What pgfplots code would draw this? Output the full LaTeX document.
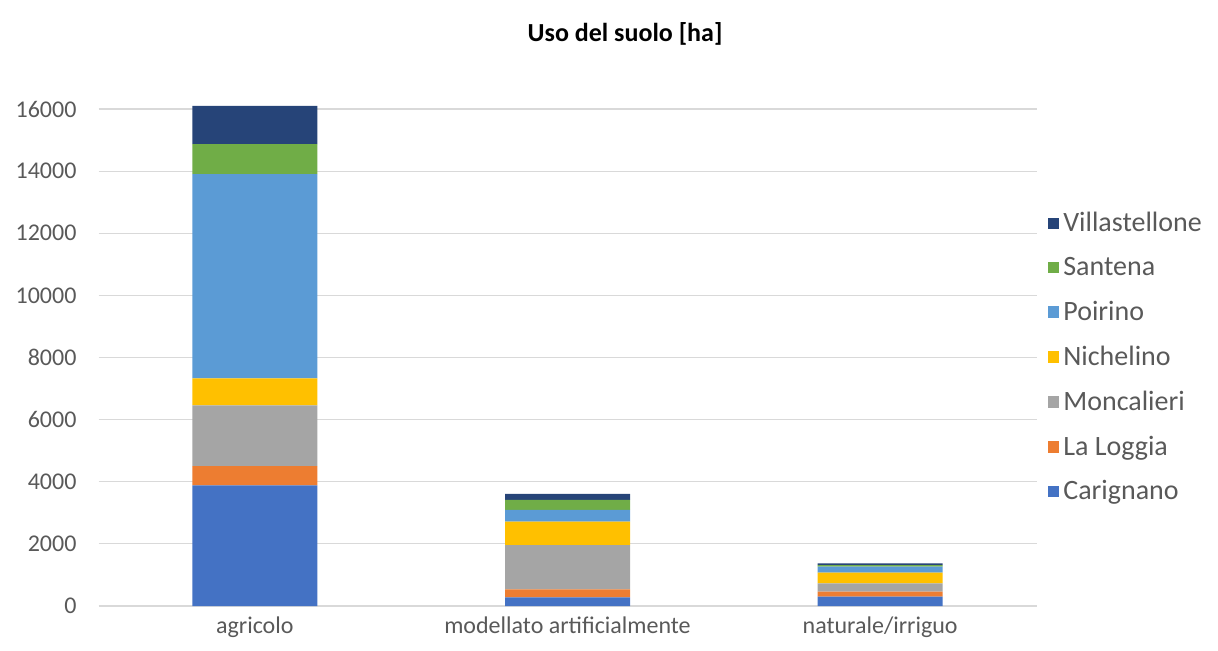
\documentclass[border=0pt]{standalone}
\usepackage{pgfplots}
\pgfplotsset{compat=1.18}
\usepackage{fontspec}
\setmainfont{Carlito}
\definecolor{cCar}{HTML}{4472C4}
\definecolor{cLog}{HTML}{ED7D31}
\definecolor{cMon}{HTML}{A5A5A5}
\definecolor{cNic}{HTML}{FFC000}
\definecolor{cPoi}{HTML}{5B9BD5}
\definecolor{cSan}{HTML}{70AD47}
\definecolor{cVil}{HTML}{264478}
\definecolor{txtgray}{HTML}{595959}
\definecolor{gridgray}{HTML}{D9D9D9}
\begin{document}
\begin{tikzpicture}[x=1pt,y=1pt]
\path[use as bounding box] (0,0) rectangle (609,325);
\node[font=\bfseries\fontsize{13}{15}\selectfont, text=black] at (312.5,308) {Uso del suolo [ha]};
\begin{axis}[
  at={(49.25pt,22pt)}, anchor=south west,
  scale only axis, width=469pt, height=248.5pt,
  ybar stacked, bar width=62.5pt,
  xmin=-0.5, xmax=2.5, ymin=0, ymax=16000,
  clip=false,
  axis line style={draw=none},
  xtick=data, xticklabels={agricolo, modellato artificialmente, naturale/irriguo},
  ytick={0,2000,...,16000},
  scaled y ticks=false,
  ymajorgrids, grid style={gridgray, line width=0.6pt},
  major tick length=0pt,
  tick label style={font=\fontsize{12}{14}\selectfont, text=txtgray},
  /pgf/number format/assume math mode=true,
  /pgf/number format/1000 sep={},
  yticklabel style={xshift=-7.5pt},
  xticklabel style={yshift=-2pt},
  legend style={draw=none, fill=none, at={(1.012,0.5)}, anchor=west,
    font=\fontsize{14}{16}\selectfont, text=txtgray, row sep=7.3pt,
    inner xsep=0pt},
  legend cell align=left,
  reverse legend,
  legend image code/.code={\fill[#1] (0pt,-2.8pt) rectangle (5.6pt,2.8pt);},
]
\addplot[fill=cCar, draw=none] coordinates {(0,3880) (1,280) (2,300)};
\addlegendentry{Carignano}
\addplot[fill=cLog, draw=none] coordinates {(0,620) (1,258) (2,160)};
\addlegendentry{La Loggia}
\addplot[fill=cMon, draw=none] coordinates {(0,1960) (1,1426) (2,268)};
\addlegendentry{Moncalieri}
\addplot[fill=cNic, draw=none] coordinates {(0,870) (1,750) (2,343)};
\addlegendentry{Nichelino}
\addplot[fill=cPoi, draw=none] coordinates {(0,6570) (1,377) (2,193)};
\addlegendentry{Poirino}
\addplot[fill=cSan, draw=none] coordinates {(0,970) (1,322) (2,54)};
\addlegendentry{Santena}
\addplot[fill=cVil, draw=none] coordinates {(0,1230) (1,193) (2,54)};
\addlegendentry{Villastellone}
\end{axis}
\end{tikzpicture}
\end{document}
